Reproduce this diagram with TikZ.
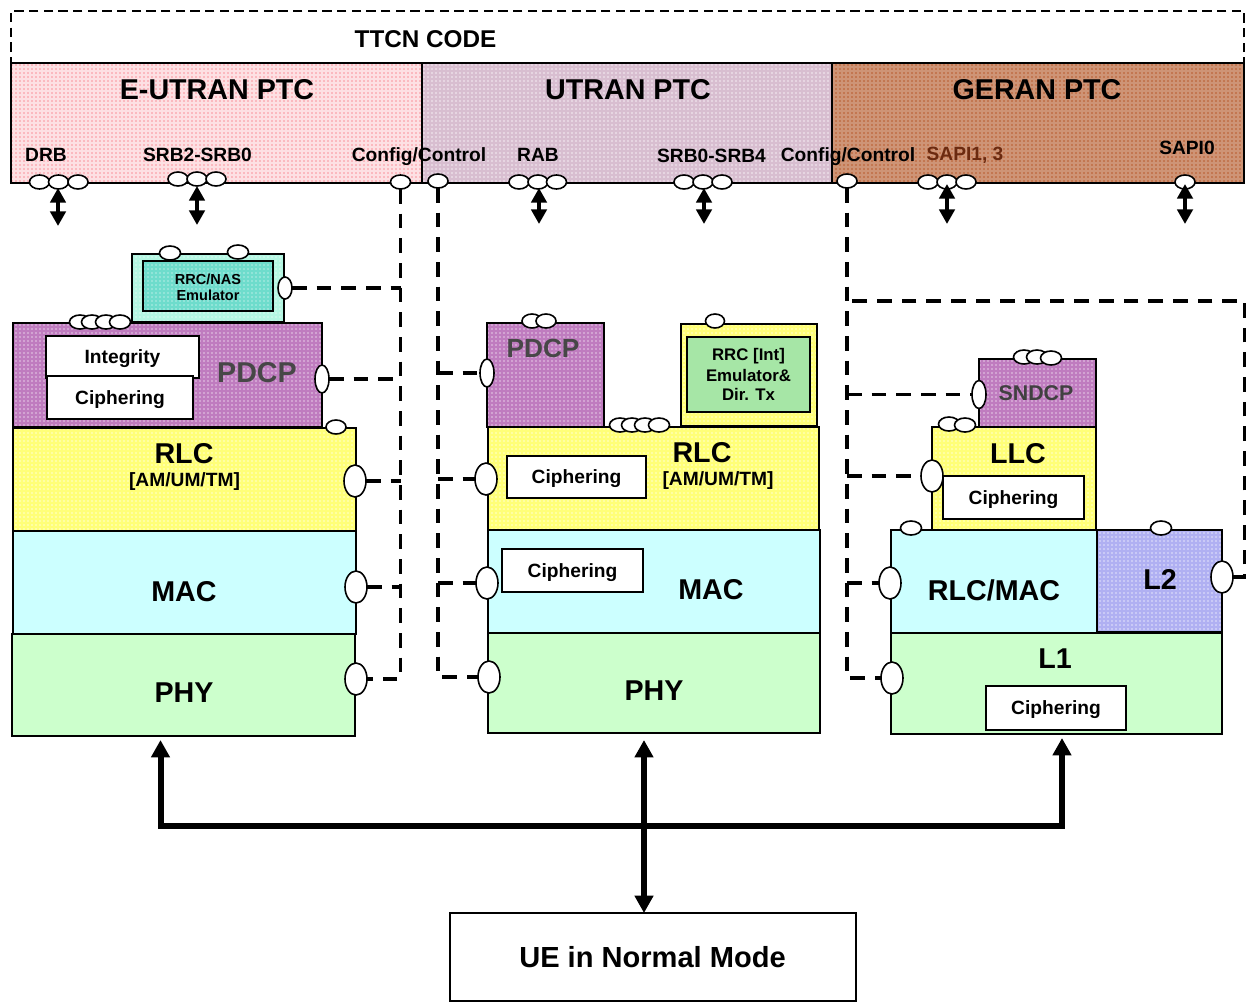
\documentclass[tikz,border=0pt]{standalone}
\usepackage{fontspec}
\setmainfont{Liberation Sans}
\usetikzlibrary{shapes.geometric,arrows.meta,patterns.meta}
\definecolor{pinkb}{HTML}{FDE0E3}
\definecolor{pinkd}{HTML}{F9929C}
\definecolor{utrb}{HTML}{D8BED0}
\definecolor{utrd}{HTML}{F6EEF4}
\definecolor{gerb}{HTML}{CE9476}
\definecolor{gerd}{HTML}{B85A2C}
\definecolor{purb}{HTML}{BF7CBF}
\definecolor{purd}{HTML}{E6CCE6}
\definecolor{yelb}{HTML}{FFFF78}
\definecolor{yeld}{HTML}{FFFFD0}
\definecolor{cyanb}{HTML}{CCFFFF}
\definecolor{greenb}{HTML}{CCFFCC}
\definecolor{l2b}{HTML}{B0B0F2}
\definecolor{l2d}{HTML}{E4E4FC}
\definecolor{rrco}{HTML}{B4F6E2}
\definecolor{rrcd}{HTML}{DCFBF2}
\definecolor{rrci}{HTML}{6EDCCC}
\definecolor{rrce}{HTML}{B6EEE6}
\definecolor{rrcg}{HTML}{A6E6A6}
\definecolor{sapi}{HTML}{6B2A10}
\newcommand\bx[7]{\node[boxbase,#6,minimum width={(#4-#2)*0.75pt},minimum height={(#5-#3)*0.75pt}] (#1) at ({(#2+#4)/2},{(#3+#5)/2}) {#7};}
\newcommand\el[5]{\node[portel,minimum width={#4*1.5pt},minimum height={#5*1.5pt}] (#1) at (#2,#3) {};}
\tikzset{
  boxbase/.style={draw=black,line width=1.2pt,inner sep=0pt,outer sep=0pt,rectangle},
  dith/.style 2 args={preaction={fill=#1},pattern={Dots[radius=0.6pt,distance=3pt,angle=0]},pattern color=#2},
  plain/.style={fill=#1},
  portel/.style={ellipse,draw=black,fill=white,line width=1.2pt,inner sep=0pt,outer sep=0pt},
  whitebox/.style={fill=white,f19,text height=13.4pt,text depth=3pt},
  lab/.style={inner sep=0pt,outer sep=0pt},
  f14/.style={font=\bfseries\fontsize{10.9}{12}\selectfont},
  f17/.style={font=\bfseries\fontsize{12.6}{14.6}\selectfont},
  f19/.style={font=\bfseries\fontsize{14.4}{16}\selectfont},
  f21/.style={font=\bfseries\fontsize{16}{18}\selectfont},
  f24/.style={font=\bfseries\fontsize{18.2}{20}\selectfont},
  f26/.style={font=\bfseries\fontsize{19.7}{22}\selectfont},
  f28/.style={font=\bfseries\fontsize{21.5}{24}\selectfont},
  f29/.style={font=\bfseries\fontsize{21.8}{26}\selectfont},
  bus/.style={line width=2.6pt,dash pattern=on 11pt off 7.5pt},
  dbl/.style={line width=2.8pt,{Triangle[width=11.5pt,length=11pt]}-{Triangle[width=11.5pt,length=11pt]}},
  fat/.style={line width=4.5pt},
  fatarrow/.style={fat,-{Triangle[width=13.5pt,length=13pt]}},
}
\begin{document}
\begin{tikzpicture}[x=0.75pt,y=-0.75pt]
\useasboundingbox (0,0) rectangle (1246,1001);
% TTCN frame
\node[draw=black,line width=0.9pt,dash pattern=on 7pt off 4pt,inner sep=0pt,minimum width={1233*0.75pt},minimum height={172*0.75pt}] (ttcn) at (627.5,97) {};
\node[lab,f24] (ttcnl) at (425.5,39) {TTCN CODE};
% PTC blocks
\bx{eutran}{11}{63}{422}{183}{dith={pinkb}{pinkd}}{}
\bx{utran}{422}{63}{832}{183}{dith={utrb}{utrd}}{}
\bx{geran}{832}{63}{1244}{183}{dith={gerb}{gerd}}{}
\node[lab,f28] (eutranl) at (217,90) {E-UTRAN PTC};
\node[lab,f28] (utranl) at (628,90) {UTRAN PTC};
\node[lab,f28] (geranl) at (1037,90) {GERAN PTC};
\node[lab,f19] (ldrb) at (46,155) {DRB};
\node[lab,f19] (lsrba) at (197.5,155) {SRB2-SRB0};
\node[lab,f19] (lcfga) at (419,156.5) {Config/Control};
\node[lab,f19] (lrab) at (538,155) {RAB};
\node[lab,f19] (lsrbb) at (711.5,156) {SRB0-SRB4};
\node[lab,f19] (lcfgb) at (848,156.5) {Config/Control};
\node[lab,f19,text=sapi] (lsapia) at (965,155.5) {SAPI1, 3};
\node[lab,f19] (lsapib) at (1187,148) {SAPI0};
% Left stack
\bx{rrcno}{132}{254}{284}{322}{dith={rrco}{rrcd}}{}
\bx{rrcni}{143}{261}{273}{311}{dith={rrci}{rrce},f14}{}
\node[lab,f14] (rrcnl) at (208,279) {RRC/NAS};
\node[lab,f14] (rrcnm) at (208,295) {Emulator};
\bx{pdcpa}{13}{323}{322}{427}{dith={purb}{purd}}{}
\bx{integ}{46}{336}{199}{378}{whitebox}{Integrity}
\bx{ciphA}{47}{376}{193}{419}{whitebox}{Ciphering}
\node[lab,f28,text=black!72] (pdcpal) at (257,373) {PDCP};
\bx{rlca}{13}{428}{356}{531}{dith={yelb}{yeld}}{}
\node[lab,f28] (rlcal) at (184,454) {RLC};
\node[lab,f19] (rlcam) at (184.5,482) {[AM/UM/TM]};
\bx{maca}{13}{531}{356}{634}{plain=cyanb}{}
\node[lab,f28] (macal) at (184,592) {MAC};
\bx{phya}{12}{634}{355}{736}{plain=greenb}{}
\node[lab,f28] (phyal) at (184,693) {PHY};
% Middle stack
\bx{pdcpb}{487}{323}{604}{427}{dith={purb}{purd}}{}
\node[lab,f26,text=black!72] (pdcpbl) at (543,348) {PDCP};
\bx{rrcio}{681}{324}{817}{426}{dith={yelb}{yeld}}{}
\bx{rrcii}{687}{337}{810}{412}{plain=rrcg}{}
\node[lab,f17] (rrcia) at (748.5,356.5) {RRC [Int]};
\node[lab,f17] (rrcib) at (748.5,375) {Emulator\&};
\node[lab,f17] (rrcic) at (748.5,394) {Dir. Tx};
\bx{rlcb}{488}{427}{819}{530}{dith={yelb}{yeld}}{}
\bx{ciphB}{507}{456}{646}{498}{whitebox}{Ciphering}
\node[lab,f28] (rlcbl) at (702,453) {RLC};
\node[lab,f19] (rlcbm) at (718,481) {[AM/UM/TM]};
\bx{macb}{488}{530}{820}{633}{plain=cyanb}{}
\bx{ciphC}{502}{549}{643}{592}{whitebox}{Ciphering}
\node[lab,f28] (macbl) at (711,590) {MAC};
\bx{phyb}{488}{633}{820}{733}{plain=greenb}{}
\node[lab,f28] (phybl) at (654,691) {PHY};
% Right stack
\bx{sndcp}{979}{359}{1096}{427}{dith={purb}{purd}}{}
\node[lab,f21,text=black!75] (sndcpl) at (1036,393) {SNDCP};
\bx{llc}{932}{427}{1096}{530}{dith={yelb}{yeld}}{}
\node[lab,f28] (llcl) at (1018,454) {LLC};
\bx{ciphD}{943}{476}{1084}{519}{whitebox}{Ciphering}
\bx{rlcmac}{891}{530}{1097}{633}{plain=cyanb}{}
\node[lab,f28] (rlcmacl) at (994,590) {RLC/MAC};
\bx{ltwo}{1097}{530}{1222}{632}{dith={l2b}{l2d}}{}
\node[lab,f28] (ltwol) at (1160,579) {L2};
\bx{lone}{891}{633}{1222}{734}{plain=greenb}{}
\node[lab,f28] (lonel) at (1055,659) {L1};
\bx{ciphE}{986}{686}{1126}{730}{whitebox}{Ciphering}
% UE
\bx{ue}{450}{913}{856}{1001}{fill=white}{}
\node[lab,f29] (uel) at (652.5,957) {UE in Normal Mode};
% Ports on PTC
\el{da}{39.5}{182}{10}{7}\el{db}{58.5}{182}{10}{7}\el{dc}{78}{182}{10}{7}
\el{sa}{178}{179}{10}{7}\el{sb}{197}{179}{10}{7}\el{sc}{216}{179}{10}{7}
\el{cfa}{400.5}{182}{10}{7}\el{cfb}{438}{181}{10}{7}
\el{ra}{519}{182}{10}{7}\el{rb}{538}{182}{10}{7}\el{rc}{556.5}{182}{10}{7}
\el{ta}{684}{182}{10}{7}\el{tb}{703}{182}{10}{7}\el{tc}{722}{182}{10}{7}
\el{cfc}{847}{181}{10}{7}
\el{ga}{928}{182}{10}{7}\el{gb}{947}{182}{10}{7}\el{gc}{966}{182}{10}{7}
\el{gd}{1185}{182}{10}{7}
% Ports left stack
\el{na}{170}{253}{10.5}{7}\el{nb}{238}{252}{10.5}{7}
\el{nr}{285}{288}{7}{11}
\el{pa}{80}{322}{10.5}{7}\el{pb}{92}{322}{10.5}{7}\el{pc}{106}{322}{10.5}{7}\el{pd}{120}{322}{10.5}{7}
\el{pr}{322}{379}{7}{14}
\el{rt}{336}{427}{10}{7}
\el{rr}{355}{481}{11}{16}
\el{mr}{356}{587}{11}{16}
\el{yr}{356}{679}{11}{16}
% Ports middle stack
\el{qa}{532}{321}{10}{7}\el{qb}{546}{321}{10}{7}
\el{qi}{715}{321}{9.5}{7}
\el{ua}{620}{425}{10.5}{7}\el{ub}{632}{425}{10.5}{7}\el{uc}{645}{425}{10.5}{7}\el{ud}{659}{425}{10.5}{7}
\el{ql}{487}{373}{7}{14}
\el{ul}{486}{479}{11}{16}
\el{ml}{487}{583}{11}{16}
\el{yl}{489}{677}{11}{16}
% Ports right stack
\el{ka}{1024}{357}{10.5}{7}\el{kb}{1037}{357}{10.5}{7}\el{kc}{1051}{358}{10.5}{7}
\el{kl}{979}{394.5}{7}{14}
\el{la}{949}{424}{10.5}{7}\el{lb}{965}{425}{10.5}{7}
\el{ll}{932}{476}{11}{16}
\el{xa}{911}{528}{10.5}{7}
\el{xl}{890}{583}{11}{16}
\el{xb}{1161}{528}{10.5}{7}
\el{xr}{1222}{577}{11}{16}
\el{zl}{892}{678}{11}{16}
% Double arrows at the PTC
\coordinate (eda) at (58,226);
\coordinate (edb) at (197,225);
\coordinate (edc) at (539,224);
\coordinate (edd) at (704,224);
\coordinate (ede) at (947,224);
\coordinate (edf) at (1185,224);
\draw[dbl] (58,188) -- (eda);
\draw[dbl] (197,186) -- (edb);
\draw[dbl] (539,188) -- (edc);
\draw[dbl] (704,188) -- (edd);
\draw[dbl] (947,184) -- (ede);
\draw[dbl] (1185,184) -- (edf);
% Config buses
\draw[bus] (cfa.south) -- (cfa.south |- yr.east) -- (yr.east);
\draw[bus] (nr.east) -- (nr.east -| cfa.south);
\draw[bus] (pr.east) -- (pr.east -| cfa.south);
\draw[bus] (rr.east) -- (rr.east -| cfa.south);
\draw[bus] (mr.east) -- (mr.east -| cfa.south);
\draw[bus] (cfb.south) -- (cfb.south |- yl.west) -- (yl.west);
\draw[bus] (cfb.south |- ql.west) -- (ql.west);
\draw[bus] (cfb.south |- ul.west) -- (ul.west);
\draw[bus] (cfb.south |- ml.west) -- (ml.west);
\draw[bus] (cfc.south) -- (cfc.south |- zl.west) -- (zl.west);
\draw[bus] (cfc.south |- kl.west) -- (kl.west);
\draw[bus] (cfc.south |- ll.west) -- (ll.west);
\draw[bus] (cfc.south |- xl.west) -- (xl.west);
\coordinate (cnr) at (1245,301);
\draw[bus] (xr.east) -- (xr.east -| cnr) -- (cnr) -- (cnr -| cfc.south);
% UE arrows
\coordinate (jn) at (644,826);
\coordinate (ea) at (160.5,740);
\coordinate (eb) at (644,740);
\coordinate (ec) at (1062,738);
\draw[fat,line cap=rect] (jn) -- (jn -| ea);
\draw[fat,line cap=rect] (jn) -- (jn -| ec);
\draw[fatarrow] (jn -| ea) -- (ea);
\draw[fatarrow] (jn -| ec) -- (ec);
\draw[fat,{Triangle[width=13.5pt,length=13pt]}-{Triangle[width=13.5pt,length=13pt]}] (eb) -- (eb |- ue.north);
\end{tikzpicture}
\end{document}
